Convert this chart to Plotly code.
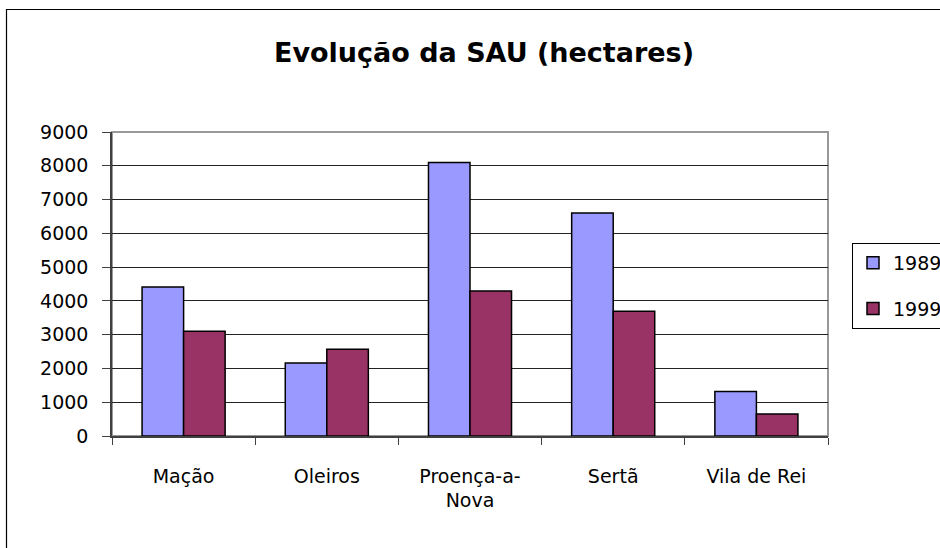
import plotly.graph_objects as go

categories = ["Mação", "Oleiros", "Proença-a-<br>Nova", "Sertã", "Vila de Rei"]
series_names = ["1989", "1999"]
values_1989 = [4410, 2160, 8100, 6600, 1320]
values_1999 = [3100, 2570, 4290, 3690, 650]
y_ticks = [0, 1000, 2000, 3000, 4000, 5000, 6000, 7000, 8000, 9000]

colors = ["#9999FF", "#993366"]
FONT = "DejaVu Sans, Verdana, sans-serif"

fig = go.Figure()
for name, vals, col in zip(series_names, [values_1989, values_1999], colors):
    fig.add_trace(go.Bar(
        x=categories, y=vals, name=name, legendgroup=name,
        marker=dict(color=col, line=dict(color="black", width=1.5)),
    ))

W, H = 940, 548
ml, mr, mt, mb = 112, 112, 132, 112
pw, ph = W - ml - mr, H - mt - mb

def px_x(x):
    return (x - ml) / pw

def px_y(y):
    return (H - mb - y) / ph

fig.update_layout(
    width=W, height=H,
    margin=dict(l=ml, r=mr, t=mt, b=mb, autoexpand=False),
    paper_bgcolor="white", plot_bgcolor="white",
    font=dict(family=FONT, size=19, color="black"),
    title=dict(text="<b>Evolução da SAU (hectares)</b>", x=484 / W,
               xanchor="center", y=1 - 53 / H, yanchor="middle",
               font=dict(family=FONT, size=27, color="black")),
    barmode="group", bargap=0.42, bargroupgap=0,
    showlegend=True,
    legend=dict(x=px_x(852), xanchor="left", y=px_y(243), yanchor="top",
                bordercolor="black", borderwidth=1, bgcolor="white",
                font=dict(family=FONT, size=19, color="black"),
                tracegroupgap=18, traceorder="grouped", itemwidth=30),
    xaxis=dict(type="category", tickson="boundaries", ticks="outside", ticklen=7,
               tickcolor="#404040", showline=True, linecolor="#404040", linewidth=1.5,
               showgrid=False, ticklabelstandoff=22,
               tickfont=dict(family=FONT, size=19, color="black")),
    yaxis=dict(range=[0, 9000], tickvals=y_ticks, ticks="outside", ticklen=8,
               tickcolor="#404040", showline=True, linecolor="#404040", linewidth=1.5,
               showgrid=True, gridcolor="#222222", gridwidth=1, zeroline=False,
               ticklabelstandoff=10,
               tickfont=dict(family=FONT, size=19, color="black")),
    shapes=[
        dict(type="rect", xref="paper", yref="paper", x0=0, x1=1, y0=0, y1=1,
             line=dict(color="#999999", width=2), layer="below"),
        dict(type="rect", xref="paper", yref="paper",
             x0=px_x(6.5), x1=px_x(960), y0=px_y(570), y1=px_y(9.5),
             line=dict(color="black", width=1.2), layer="above"),
    ],
)

fig.write_html("out.html", config={"displayModeBar": False},
               post_script="document.body.style.margin='0';document.body.style.overflow='hidden';")
